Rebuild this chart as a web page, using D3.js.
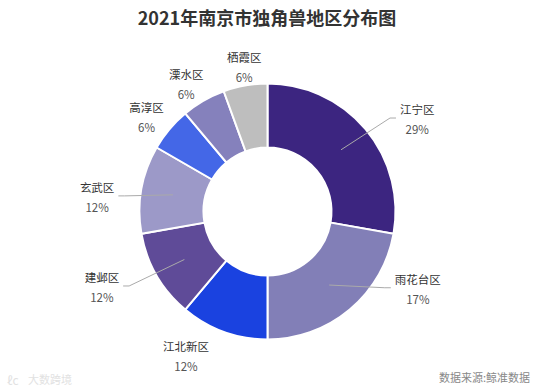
<!DOCTYPE html>
<html>
<head>
<meta charset="utf-8">
<script src="https://cdn.jsdelivr.net/npm/d3@7"></script>
<style>
  html, body { margin: 0; padding: 0; background: #fff; }
  svg { display: block; font-family: "Noto Sans CJK SC", "Noto Sans", sans-serif; }
</style>
</head>
<body>
<div id="chart"></div>
<script>
// districts, slice sizes (counts) and the percent text printed on each label
var districts = ["江宁区", "雨花台区", "江北新区", "建邺区", "玄武区", "高淳区", "溧水区", "栖霞区"];
var counts = [5, 4, 2, 2, 2, 1, 1, 1];
var pctLabels = ["29%", "17%", "12%", "12%", "12%", "6%", "6%", "6%"];
var colors = ["#3c2580", "#827fb7", "#1a42e0", "#5f4b98", "#9c99c8", "#4467e7", "#8581bc", "#bebebe"];

// label placement (polar: degrees clockwise from top, radius) and whether a leader line is drawn
var labelAngle = [58.3, 117.2, 209.4, 245.5, 274.9, 308, 327.4, 350.8];
var labelRadius = [176, 169, 166, 182, 171, 153.5, 151, 146];
var showLine = [true, true, false, true, true, false, false, false];

var width = 537, height = 388;
var cx = 267.5, cy = 211.5;
var outerR = 128, innerR = 64;

var svg = d3.select("#chart")
  .append("svg")
    .attr("width", width)
    .attr("height", height);

svg.append("rect").attr("width", width).attr("height", height).attr("fill", "#fff");

// title
svg.append("text")
  .attr("x", 267)
  .attr("y", 17)
  .attr("text-anchor", "middle")
  .attr("dominant-baseline", "central")
  .attr("font-size", 18)
  .attr("font-weight", "bold")
  .attr("fill", "#333")
  .text("2021年南京市独角兽地区分布图");

var data = districts.map(function(d, i) {
  return { name: d, value: counts[i], pct: pctLabels[i], color: colors[i], i: i };
});

var pie = d3.pie()
  .value(function(d) { return d.value; })
  .sort(null);

var arcs = pie(data);

var arc = d3.arc().innerRadius(innerR).outerRadius(outerR);

var g = svg.append("g").attr("transform", "translate(" + cx + "," + cy + ")");

g.selectAll("path.slice")
  .data(arcs)
  .enter()
  .append("path")
    .attr("class", "slice")
    .attr("d", arc)
    .attr("fill", function(d) { return d.data.color; })
    .attr("stroke", "#fff")
    .attr("stroke-width", 2);

// labels
var rad = Math.PI / 180;
arcs.forEach(function(a, i) {
  var p = d3.pointRadial(labelAngle[i] * rad, labelRadius[i]);
  var lg = g.append("g");
  var nameText = lg.append("text")
    .attr("x", p[0])
    .attr("y", p[1] - 10)
    .attr("text-anchor", "middle")
    .attr("dominant-baseline", "central")
    .attr("font-size", 11.5)
    .attr("fill", "#333")
    .text(a.data.name);
  lg.append("text")
    .attr("x", p[0])
    .attr("y", p[1] + 10)
    .attr("text-anchor", "middle")
    .attr("dominant-baseline", "central")
    .attr("font-size", 11.5)
    .attr("fill", "#555")
    .text(a.data.pct);

  if (showLine[i]) {
    var mid = (a.startAngle + a.endAngle) / 2;
    var start = d3.pointRadial(mid, (innerR + outerR) / 2);
    var half = nameText.node().getComputedTextLength() / 2 + 4;
    var right = p[0] > 0;
    var endX = right ? p[0] - half : p[0] + half;
    var endY = p[1] - 1;
    var elbowX = right ? endX - 6 : endX + 6;
    g.append("path")
      .attr("d", d3.line()([start, [elbowX, endY], [endX, endY]]))
      .attr("fill", "none")
      .attr("stroke", "#aaa")
      .attr("stroke-width", 1);
  }
});

// source
svg.append("text")
  .attr("x", 530)
  .attr("y", 377)
  .attr("text-anchor", "end")
  .attr("dominant-baseline", "central")
  .attr("font-size", 11)
  .attr("fill", "#888")
  .text("数据来源:鲸准数据");

// faint watermark
svg.append("text")
  .attr("x", 7)
  .attr("y", 379)
  .attr("dominant-baseline", "central")
  .attr("font-size", 12)
  .attr("fill", "#e2e2e2")
  .text("ℓc");
svg.append("text")
  .attr("x", 28)
  .attr("y", 379)
  .attr("dominant-baseline", "central")
  .attr("font-size", 11)
  .attr("fill", "#e2e2e2")
  .text("大数跨境");
</script>
</body>
</html>
